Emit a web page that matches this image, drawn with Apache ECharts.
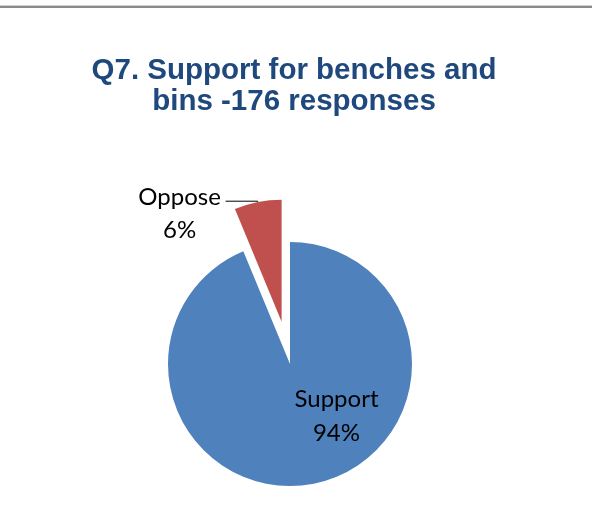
<!DOCTYPE html>
<html>
<head>
<meta charset="utf-8">
<script src="https://cdn.jsdelivr.net/npm/echarts@6/dist/echarts.min.js"></script>
<style>
  html, body { margin: 0; padding: 0; background: #ffffff; }
  #chart { width: 592px; height: 519px; }
</style>
</head>
<body>
<div id="chart"></div>
<script>
const titleText = 'Q7. Support for benches and\nbins -176 responses';
const categories = ['Support', 'Oppose'];
const responses = [165, 11];
const colors = ['#4F81BD', '#C0504D'];

const chart = echarts.init(document.getElementById('chart'), null, { renderer: 'canvas' });

const data = categories.map((name, i) => {
  const item = { name: name, value: responses[i], itemStyle: { color: colors[i] } };
  if (i === 1) {
    item.selected = true;
    item.label = {
      position: 'outside',
      formatter: '{a|{b}}\n{a|{d}%}',
      padding: [26, 0, 0, 0],
      rich: { a: { width: 82, align: 'center', fontFamily: 'Lato', fontSize: 24, lineHeight: 33, color: '#000' } }
    };
    item.labelLine = { show: true, length: 1, length2: 32, lineStyle: { color: '#000', width: 1 } };
  } else {
    item.label = {
      position: 'inside',
      formatter: '{b}\n{d}%',
      fontFamily: 'Lato', fontSize: 24, lineHeight: 34, color: '#000', align: 'center'
    };
  }
  return item;
});

chart.setOption({
  animation: false,
  backgroundColor: '#ffffff',
  title: {
    text: titleText,
    left: 289,
    top: 50,
    textAlign: 'center',
    textStyle: {
      fontFamily: 'Liberation Sans, Arial, sans-serif',
      fontWeight: 'bold',
      fontSize: 29.5,
      lineHeight: 31,
      color: '#1F497D'
    }
  },
  graphic: [
    { type: 'rect', left: 0, top: 5, shape: { width: 592, height: 1 }, style: { fill: '#d0d0d0' }, silent: true },
    { type: 'rect', left: 0, top: 6, shape: { width: 592, height: 2 }, style: { fill: '#8a8a8a' }, silent: true }
  ],
  series: [{
    type: 'pie',
    center: [290, 364],
    radius: [0, 122],
    startAngle: 90,
    clockwise: true,
    percentPrecision: 0,
    selectedMode: 'single',
    selectedOffset: 43,
    avoidLabelOverlap: false,
    emphasis: { disabled: true },
    label: { show: true },
    labelLayout: function (params) {
      if (params.dataIndex === 0) {
        return { dx: 34, dy: -11 };
      }
      return {};
    },
    data: data
  }]
});
</script>
</body>
</html>
